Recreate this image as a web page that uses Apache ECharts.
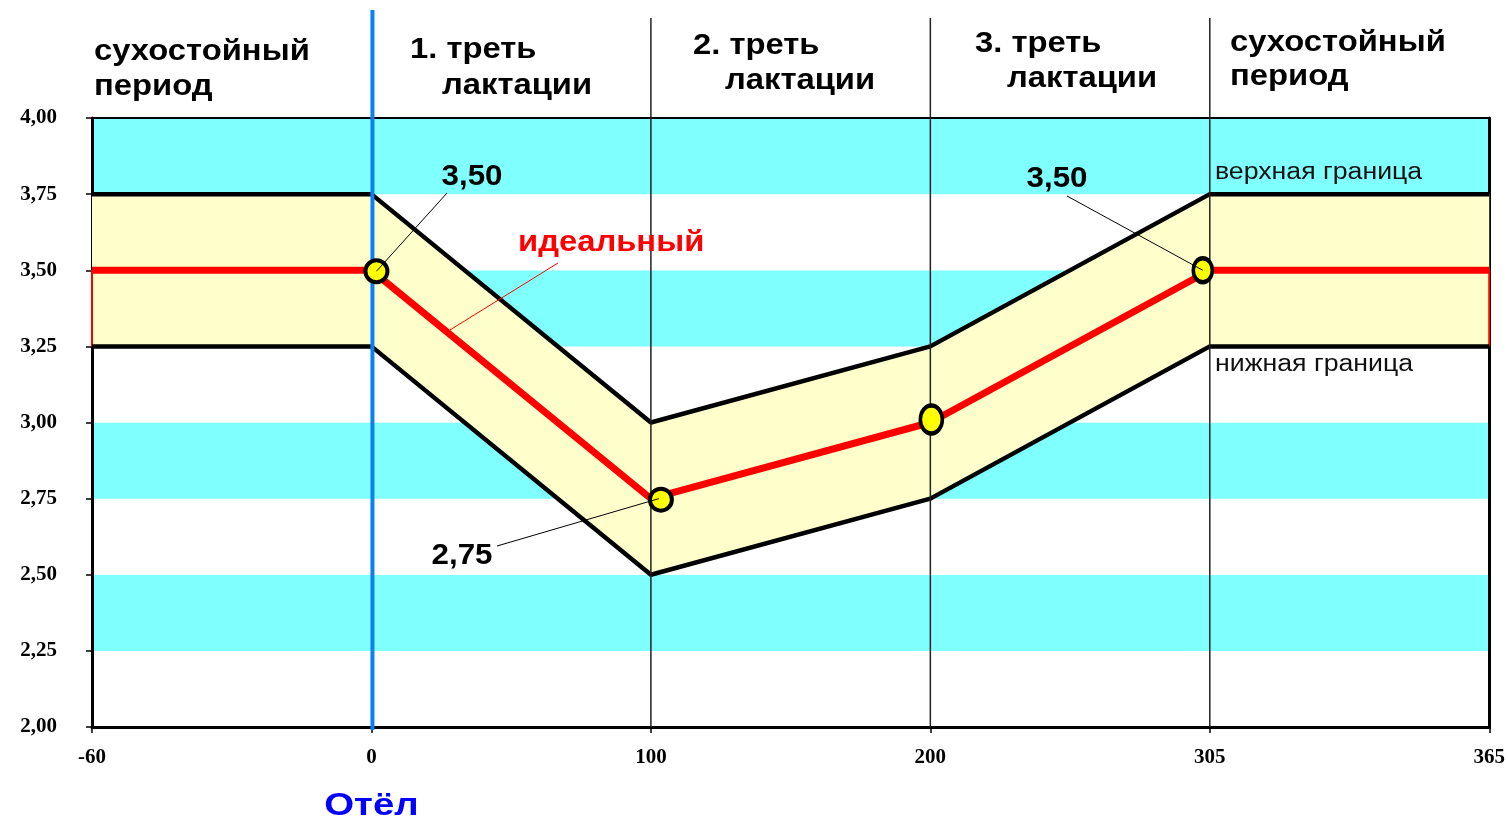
<!DOCTYPE html>
<html>
<head>
<meta charset="utf-8">
<script src="https://cdn.jsdelivr.net/npm/echarts@6/dist/echarts.min.js"></script>
<style>
  html, body { margin: 0; padding: 0; background: #ffffff; }
  #chart { width: 1508px; height: 825px; }
</style>
</head>
<body>
<div id="chart"></div>
<script>
// Day of the lactation cycle (equally spaced phase boundaries)
const dayLabels = ['-60', '0', '100', '200', '305', '365'];
// Corridor of the target value per phase boundary
const upperBound = [3.75, 3.75, 3.00, 3.25, 3.75, 3.75];
const lowerBound = [3.25, 3.25, 2.50, 2.75, 3.25, 3.25];
// Ideal curve
const idealLine = [3.50, 3.50, 2.75, 3.00, 3.50, 3.50];
// Highlighted points on the ideal curve (category index)
const markedIdx = [1, 2, 3, 4];
// Points whose value is written next to them
const calloutIdx = [1, 2, 4];
// Phase boundaries drawn as thin vertical lines
const phaseIdx = [2, 3, 4];
const calvingIdx = 1;

const fmt = v => v.toFixed(2).replace('.', ',');
const bandWidth = upperBound.map((u, i) => +(u - lowerBound[i]).toFixed(2));

const SANS = '"Liberation Sans", Arial, sans-serif';
const SERIF = '"Liberation Serif", "Times New Roman", serif';
const WIDE = 1.13;

const chart = echarts.init(document.getElementById('chart'), null, { renderer: 'canvas' });

const markerOffsets = [[5, 1], [10, 1], [1, -3], [-7, 0]];
const markerSizes = [[22, 22], [22, 22], [22, 28], [19, 24]];

chart.setOption({
  animation: false,
  backgroundColor: '#ffffff',
  grid: { left: 92, right: 18, top: 118, bottom: 98, containLabel: false },
  xAxis: [{
    type: 'category',
    data: dayLabels,
    boundaryGap: false,
    position: 'bottom',
    axisLine: { show: true, lineStyle: { color: '#000', width: 3 } },
    axisTick: { show: true, inside: false, length: 6, lineStyle: { color: '#000', width: 1.5 } },
    axisLabel: { color: '#000', fontFamily: SERIF, fontWeight: 'bold', fontSize: 21, margin: 20 },
    splitLine: { show: false }
  }, {
    type: 'category',
    data: dayLabels,
    boundaryGap: false,
    position: 'top',
    axisLine: { show: true, lineStyle: { color: '#000', width: 2 } },
    axisTick: { show: false },
    axisLabel: { show: false },
    splitLine: { show: false }
  }],
  yAxis: [{
    type: 'value',
    min: 2,
    max: 4,
    interval: 0.25,
    position: 'left',
    axisLine: { show: true, lineStyle: { color: '#000', width: 3 } },
    axisTick: { show: true, inside: false, length: 6, lineStyle: { color: '#000', width: 1.5 } },
    axisLabel: { color: '#000', fontFamily: SERIF, fontWeight: 'bold', fontSize: 21, margin: 35, formatter: v => fmt(v) },
    splitLine: { show: false },
    splitArea: { show: true, areaStyle: { color: ['#ffffff', '#80ffff'] } }
  }, {
    type: 'value',
    min: 2,
    max: 4,
    interval: 0.25,
    position: 'right',
    axisLine: { show: true, lineStyle: { color: '#000', width: 3 } },
    axisTick: { show: false },
    axisLabel: { show: false },
    splitLine: { show: false }
  }],
  series: [
    {
      name: 'lowerBase',
      type: 'line',
      stack: 'band',
      data: lowerBound,
      symbol: 'none',
      lineStyle: { opacity: 0 },
      silent: true,
      z: 2
    },
    {
      name: 'corridor',
      type: 'line',
      stack: 'band',
      data: bandWidth,
      symbol: 'none',
      lineStyle: { opacity: 0 },
      areaStyle: { color: '#ffffcc', opacity: 1 },
      silent: true,
      z: 2
    },
    {
      name: 'edgeLeft',
      type: 'line',
      data: [[0, lowerBound[0]], [0, idealLine[0]]],
      symbol: 'none',
      lineStyle: { color: '#ff0000', width: 2 },
      z: 3
    },
    {
      name: 'edgeRight',
      type: 'line',
      data: [[5, lowerBound[5]], [5, idealLine[5]]],
      symbol: 'none',
      lineStyle: { color: '#ff0000', width: 2 },
      z: 3
    },
    {
      name: 'верхная граница',
      type: 'line',
      data: upperBound,
      symbol: 'none',
      lineStyle: { color: '#000', width: 4.5 },
      z: 4
    },
    {
      name: 'нижная граница',
      type: 'line',
      data: lowerBound,
      symbol: 'none',
      lineStyle: { color: '#000', width: 4.5 },
      z: 4
    },
    {
      name: 'идеальный',
      type: 'line',
      data: idealLine,
      symbol: 'none',
      lineStyle: { color: '#ff0000', width: 7 },
      z: 5
    },
    {
      name: 'points',
      type: 'scatter',
      data: markedIdx.map((i, k) => ({
        value: [i, idealLine[i]],
        symbolSize: markerSizes[k],
        symbolOffset: markerOffsets[k]
      })),
      symbol: 'circle',
      itemStyle: { color: '#ffff00', borderColor: '#000', borderWidth: 4, opacity: 1 },
      z: 7
    }
  ]
});

// Overlay: phase lines, headings and callouts positioned via the chart's own scales
function px(i, v) { return chart.convertToPixel({ gridIndex: 0 }, [i, v]); }
const yBottom = px(0, 2)[1];

const graphics = [];

phaseIdx.forEach(i => {
  const x = px(i, 2)[0];
  graphics.push({
    type: 'line', z: 6, silent: true,
    shape: { x1: x, y1: 18, x2: x, y2: yBottom },
    style: { stroke: '#222', lineWidth: 1.5 }
  });
});

const xCalving = px(calvingIdx, 2)[0];
graphics.push({
  type: 'line', z: 6, silent: true,
  shape: { x1: xCalving + 1, y1: 10, x2: xCalving + 1, y2: yBottom + 3 },
  style: { stroke: '#0a80f5', lineWidth: 4 }
});

function text(str, x, y, opts, sx) {
  graphics.push({
    type: 'text', z: 10, silent: true,
    x: x, y: y,
    scaleX: sx || WIDE,
    style: Object.assign({
      text: str,
      fill: '#000',
      font: 'bold 29px ' + SANS,
      textAlign: 'left',
      textVerticalAlign: 'middle'
    }, opts || {})
  });
}

// Phase headings
text('сухостойный', 94, 52);
text('период', 94, 87);
text('1. треть', 410, 50);
text('лактации', 442, 86);
text('2. треть', 693, 46);
text('лактации', 725, 81);
text('3. треть', 975, 44);
text('лактации', 1007, 79);
text('сухостойный', 1230, 43);
text('период', 1230, 77);

// Calving label
text('Отёл', xCalving, 806, { fill: '#0000ff', font: 'bold 32px ' + SANS, textAlign: 'center' }, 1.2);

// Boundary names
text('верхная граница', 1215, 173, { font: '23px ' + SANS, fill: '#111' }, 1.16);
text('нижная граница', 1215, 365, { font: '23px ' + SANS, fill: '#111' }, 1.16);

// Value callouts with leader lines
const calloutPos = [[472, 177], [462, 556], [1057, 179]];
const leaderStart = [[447, 193], [497, 546], [1067, 196]];
const leaderShift = [[5, 1], [8, 0], [-7, 0]];
calloutIdx.forEach((i, k) => {
  const p = px(i, idealLine[i]);
  graphics.push({
    type: 'line', z: 8, silent: true,
    shape: { x1: leaderStart[k][0], y1: leaderStart[k][1], x2: p[0] + leaderShift[k][0], y2: p[1] + leaderShift[k][1] },
    style: { stroke: '#000', lineWidth: 1 }
  });
  text(fmt(idealLine[i]), calloutPos[k][0], calloutPos[k][1], { textAlign: 'center' }, 1.08);
});

// "идеальный" label pointing at the falling segment of the ideal curve
const a = px(1, idealLine[1]);
const b = px(2, idealLine[2]);
const t = 0.27;
graphics.push({
  type: 'line', z: 8, silent: true,
  shape: { x1: 558, y1: 263, x2: a[0] + (b[0] - a[0]) * t, y2: a[1] + (b[1] - a[1]) * t },
  style: { stroke: '#ff0000', lineWidth: 1 }
});
text('идеальный', 518, 243, { fill: '#ff0000' });

chart.setOption({ graphic: graphics });
</script>
</body>
</html>
